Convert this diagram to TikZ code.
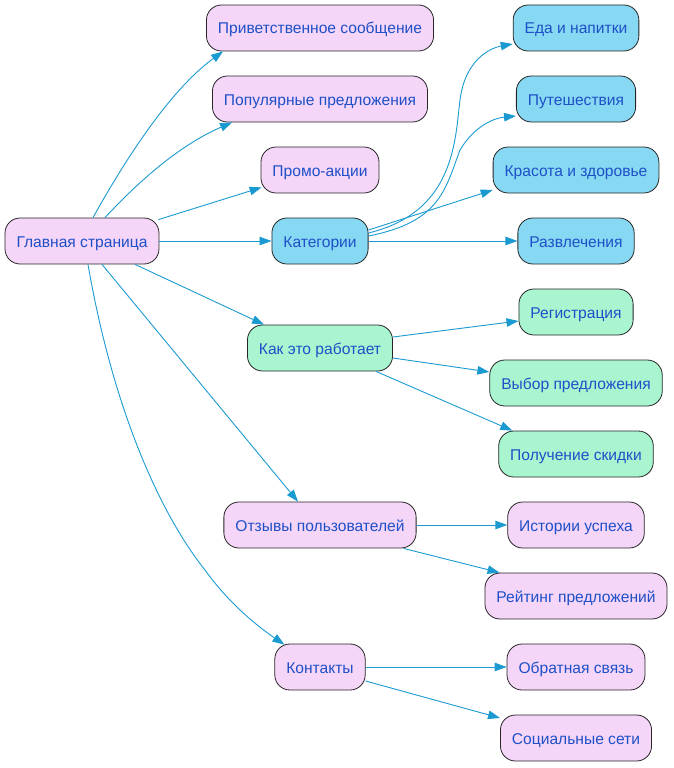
\documentclass[tikz,border=0pt]{standalone}
\usepackage{fontspec}
\setmainfont{Liberation Sans}
\usetikzlibrary{arrows.meta,calc}
\definecolor{pinkf}{HTML}{F5D5F8}
\definecolor{bluef}{HTML}{87D8F2}
\definecolor{greenf}{HTML}{A8F5D0}
\definecolor{txt}{HTML}{1E50C8}
\definecolor{edgec}{HTML}{1A9AD0}
\tikzset{
  box/.style={draw=black!85, line width=0.8pt, rounded corners=15pt, minimum height=46pt, inner xsep=11.5pt, text height=12pt, text depth=0pt, text=txt, font=\fontsize{15.6}{18}\selectfont},
  pk/.style={box, fill=pinkf},
  bl/.style={box, fill=bluef},
  gr/.style={box, fill=greenf},
  con/.style={draw=edgec, line width=0.9pt, -{Triangle[length=12pt,width=8.5pt]}},
}
\begin{document}
\begin{tikzpicture}[x=1pt,y=-1pt]
\useasboundingbox (0,0) rectangle (673,768);
\node[pk] (main) at (82,241) {Главная страница};
\node[pk] (welcome) at (320,28) {Приветственное сообщение};
\node[pk] (popular) at (320,99) {Популярные предложения};
\node[pk] (promo) at (320,170) {Промо-акции};
\node[bl] (cat) at (320,241) {Категории};
\node[gr] (how) at (320,348) {Как это работает};
\node[pk] (rev) at (320,525) {Отзывы пользователей};
\node[pk] (cont) at (320,667) {Контакты};
\node[bl] (food) at (576,28) {Еда и напитки};
\node[bl] (travel) at (576,99) {Путешествия};
\node[bl] (beauty) at (576,170) {Красота и здоровье};
\node[bl] (fun) at (576,241) {Развлечения};
\node[gr] (reg) at (576,312) {Регистрация};
\node[gr] (choice) at (576,383) {Выбор предложения};
\node[gr] (disc) at (576,454) {Получение скидки};
\node[pk] (stories) at (576,525) {Истории успеха};
\node[pk] (rating) at (576,596) {Рейтинг предложений};
\node[pk] (fb) at (576,667) {Обратная связь};
\node[pk] (soc) at (576,738) {Социальные сети};

% from main page
\draw[con] ($(main.north)+(11,0)$) .. controls (125,160) and (170,90) .. ($(welcome.south west)+(17,0)$);
\draw[con] ($(main.north)+(23,0)$) .. controls (140,180) and (180,145) .. ($(popular.south west)+(20,0)$);
\draw[con] ($(main.north east)+(-1,2)$) -- ($(promo.south west)+(1,-6)$);
\draw[con] (main.east) -- (cat.west);
\draw[con] ($(main.south)+(53,0)$) -- ($(how.north west)+(17,0)$);
\draw[con] ($(main.south)+(20,0)$) -- ($(rev.north)+(-22,0)$);
\draw[con] ($(main.south)+(6,0)$) .. controls (115,420) and (165,520) .. (205,570) .. controls (230,605) and (260,628) .. ($(cont.north west)+(10,1)$);
% categories
\draw[con] ($(cat.east)+(0,-8)$) .. controls (455,212) and (455,140) .. (460,100) .. controls (465,60) and (490,48) .. ($(food.west)+(0,16)$);
\draw[con] ($(cat.east)+(0,-5)$) .. controls (440,222) and (445,190) .. (460,150) .. controls (475,125) and (495,118) .. ($(travel.west)+(0,17)$);
\draw[con] ($(cat.east)+(0,-11)$) -- ($(beauty.west)+(0,20)$);
\draw[con] (cat.east) -- (fun.west);
% how it works
\draw[con] ($(how.east)+(0,-11)$) -- ($(reg.west)+(0,9)$);
\draw[con] ($(how.east)+(0,10)$) -- ($(choice.west)+(0,-11)$);
\draw[con] ($(how.south east)+(-17,0)$) -- ($(disc.north west)+(14,0)$);
% reviews
\draw[con] (rev.east) -- (stories.west);
\draw[con] ($(rev.south east)+(-13,0)$) -- ($(rating.north west)+(15,0)$);
% contacts
\draw[con] (cont.east) -- (fb.west);
\draw[con] ($(cont.east)+(0,14)$) -- ($(soc.west)+(0,-20)$);
\end{tikzpicture}
\end{document}
